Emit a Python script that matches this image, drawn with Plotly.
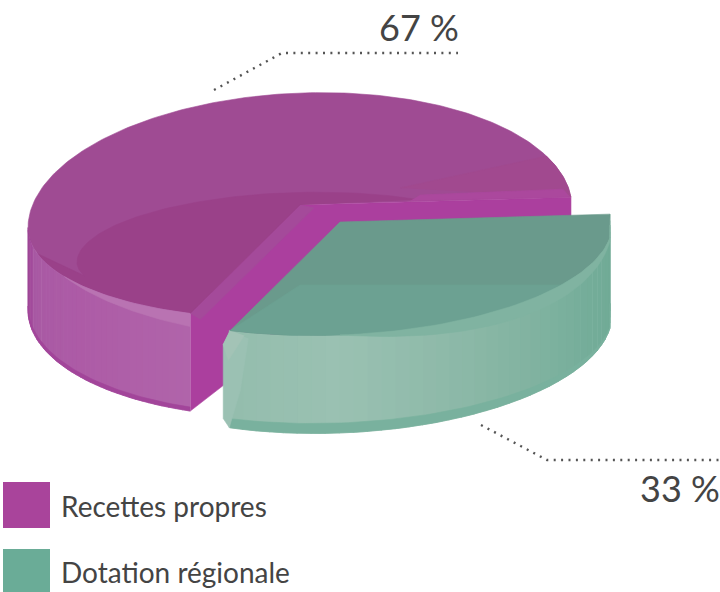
import numpy as np
import plotly.graph_objects as go

categories = ["Recettes propres", "Dotation régionale"]
shares = [67, 33]
share_labels = ["67 %", "33 %"]
legend_colors = ["#A9449B", "#6AAC97"]

CX, CY, RX, RUP, RLOW, TILT = 300, 218, 272, 125, 100, 10
APEX_Y = 205
A0 = np.radians(-5)
A1 = A0 + 2 * np.pi * shares[1] / sum(shares)
CLIP_X = 610


def rim(t, dx=0, dy=0, down=0.0):
    t = np.asarray(t, dtype=float)
    s, c = np.sin(t), np.cos(t)
    x = CX + RX * c + dx
    y = CY - TILT * c + np.where(s > 0, RLOW, RUP) * s + dy + down
    return np.minimum(x, CLIP_X), y


def hp(t):   # purple wall height
    return 82 + 17 * np.sin(t)


def hg(t):   # green wall height
    return 90 + 8 * np.sin(t)


def mix(a, b, f):
    a = [int(a[i:i + 2], 16) for i in (1, 3, 5)]
    b = [int(b[i:i + 2], 16) for i in (1, 3, 5)]
    return "#%02x%02x%02x" % tuple(int(round(p + (q - p) * f)) for p, q in zip(a, b))


fig = go.Figure()


def poly(x, y, color):
    fig.add_trace(go.Scatter(x=list(x), y=list(y), mode="lines", fill="toself", fillcolor=color,
                             line=dict(color=color, width=0.6), hoverinfo="skip", showlegend=False))


def ramp(stops, f):
    xs = [s[0] for s in stops]
    for i in range(len(xs) - 1):
        if f <= xs[i + 1]:
            return mix(stops[i][1], stops[i + 1][1], (f - xs[i]) / (xs[i + 1] - xs[i]))
    return stops[-1][1]


# ---------- Purple slice ----------
ts = np.linspace(A1, A0 + 2 * np.pi, 240)
x, y = rim(ts)
poly(np.r_[CX, x], np.r_[APEX_Y, y], "#9f4b93")

# wall of the cut
xa, ya = rim([A0, A1])
ha = hp(np.array([A0, A1]))
poly([xa[1], CX, xa[0], xa[0], CX + 40, xa[1]],
     [ya[1], APEX_Y, ya[0], ya[0] + ha[0], APEX_Y + 90, ya[1] + ha[1]], "#ab3f9e")
poly([xa[1], CX, CX + 14, xa[1] + 10],
     [ya[1], APEX_Y, APEX_Y + 3, ya[1] + 6], "#a44a9a")

# top-face dish, darker
tu = np.linspace(A0 + 2 * np.pi, np.radians(165), 120)
xr, yr = rim(tu)
dx = CX + (xr - CX) * 0.82
dy = 300 + (yr - 300) * 0.52
tl = np.linspace(np.radians(165), A1, 50)
xl, yl = rim(tl)
poly(np.r_[dx[dx < 420], xl, CX], np.r_[dy[dx < 420], yl, APEX_Y], "#9a4189")

# lighter strip on the right of the top face
tb = np.linspace(A0 + 2 * np.pi, np.radians(335), 30)
xb, yb = rim(tb)
poly(np.r_[xb, 400], np.r_[yb, 188], "#a1498f")
poly([410, xa[0] - 1, xa[0] - 8, 420], [201, ya[0], ya[0] - 8, 195], "#ab489d")

# outer wall facets
stops_p = [(0, "#b064aa"), (0.45, "#ad5ba6"), (0.8, "#a85aa4"), (0.88, "#a0479a"), (1, "#993f90")]
edges = np.linspace(A1, np.pi, 41)
for i in range(40):
    t = np.linspace(edges[i], edges[i + 1] + 0.004, 4)
    xt, yt = rim(t)
    f = (i + 0.5) / 40
    poly(np.r_[xt, xt[::-1]], np.r_[yt, (yt + hp(t))[::-1]], ramp(stops_p, f))
# dark bottom edge and highlight under the rim
t = np.linspace(A1, np.pi, 60)
xt, yt = rim(t)
poly(np.r_[xt, xt[::-1]], np.r_[yt + hp(t), (yt + hp(t) - 4)[::-1]], "#a2459a")
t = np.linspace(A1, np.radians(150), 30)
xt, yt = rim(t)
w = np.linspace(13, 0, 30)
poly(np.r_[xt, xt[::-1]], np.r_[yt, (yt + w)[::-1]], "#b973b2")

# ---------- Green slice ----------
GX, GY = 40, 17
ts = np.linspace(A0, A1, 120)
xt, yt = rim(ts, GX, GY)
xb, yb = rim(ts, GX, GY, hg(ts))

# outer wall facets
stops_g = [(0, "#6da893"), (0.25, "#74ad99"), (0.55, "#8ab7a6"), (0.8, "#9ac1b2"), (1, "#94bdad")]
edges = np.linspace(A0, A1, 41)
for i in range(40):
    t = np.linspace(edges[i], edges[i + 1] + 0.004, 4)
    x1, y1 = rim(t, GX, GY)
    x2, y2 = rim(t, GX, GY, hg(t))
    poly(np.r_[x1, x2[::-1]], np.r_[y1, y2[::-1]], ramp(stops_g, (i + 0.5) / 40))

# darker foot of the wall
t = np.linspace(A0, A1, 80)
x2, y2 = rim(t, GX, GY, hg(t))
x3, y3 = rim(t, GX, GY, hg(t) - 10 * np.sin(np.clip(t, 0, np.pi)))
poly(np.r_[x2, x3[::-1]], np.r_[y2, y3[::-1]], "#79b19e")

# left chamfer of the wall
xc, yc = rim(A1, GX, GY)
poly([xc, xc - 7, xc - 7, xc - 1, xc + 10, xc + 18],
     [yc, yc + 14, yc + 88, yc + 97, yc + 60, yc + 8], "#9bc1b3")
poly([xc, xc - 7, xc - 2, xc + 14], [yc, yc + 14, yc + 30, yc + 5], "#a3c3b6")

# top face
poly(np.r_[CX + GX, xt, CX + GX], np.r_[APEX_Y + GY, yt, APEX_Y + GY], "#6a9a8c")
tf = np.linspace(np.radians(30), A1, 70)
xf, yf = rim(tf, GX, GY)
poly(np.r_[xf, CX + GX - 40, CX + GX + 230], np.r_[yf, 285, 285], "#6ca192")
# bevel band along the rim
tbd = np.linspace(np.radians(0), np.radians(90), 50)
xf, yf = rim(tbd, GX, GY)
w = 14 * np.sin(2 * tbd)
poly(np.r_[xf, xf[::-1]], np.r_[yf, (yf + w)[::-1]], "#80b3a1")

# ---------- Leader lines ----------
leaders_x = [[214, 282, 458], [481, 547, 720]]
leaders_y = [[90, 53, 53], [425, 460, 460]]
for lx, ly in zip(leaders_x, leaders_y):
    fig.add_trace(go.Scatter(x=lx, y=ly, mode="lines", hoverinfo="skip", showlegend=False,
                             line=dict(color="#555555", width=2.4, dash="2px,5.4px")))

# ---------- Legend ----------
legend_y = [505, 570.5]
legend_h = [46, 43]
for c, yy, h, name in zip(legend_colors, legend_y, legend_h, categories):
    fig.add_shape(type="rect", x0=3, x1=50, y0=yy - h / 2, y1=yy + h / 2,
                  fillcolor=c, line_width=0, layer="above")
    fig.add_annotation(x=59, y=yy + 1, text=name, showarrow=False, xanchor="left", yanchor="middle",
                       font=dict(family="Lato", size=28, color="#444444"))

fig.add_annotation(x=418.5, y=27, text=share_labels[0], showarrow=False, xanchor="center", yanchor="middle",
                   font=dict(family="Lato", size=36, color="#444444"))
fig.add_annotation(x=679.5, y=488, text=share_labels[1], showarrow=False, xanchor="center", yanchor="middle",
                   font=dict(family="Lato", size=36, color="#444444"))

fig.update_layout(width=720, height=592, margin=dict(l=0, r=0, t=0, b=0),
                  paper_bgcolor="white", plot_bgcolor="white", showlegend=False,
                  xaxis=dict(range=[0, 720], visible=False, fixedrange=True),
                  yaxis=dict(range=[592, 0], visible=False, fixedrange=True))
fig.write_html("out.html", config={"displayModeBar": False},
               post_script="document.body.style.margin='0';document.documentElement.style.overflow='hidden';")
